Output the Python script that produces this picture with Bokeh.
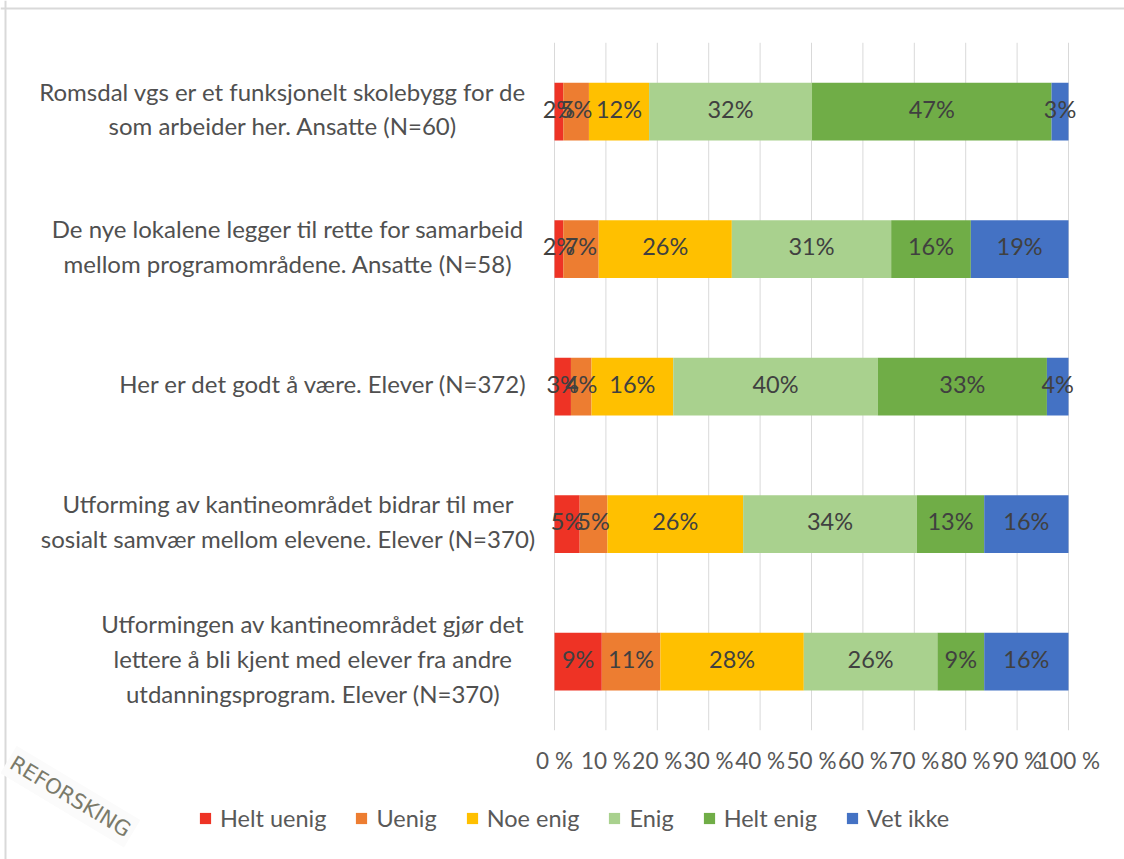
from bokeh.plotting import figure
from bokeh.models import (ColumnDataSource, Range1d, Legend, LegendItem,
                          Label, LabelSet, Span)
from bokeh.core.properties import value
from bokeh.embed import file_html
from bokeh.resources import INLINE

categories = [
    "Romsdal vgs er et funksjonelt skolebygg for de\nsom arbeider her. Ansatte (N=60)",
    "De nye lokalene legger til rette for samarbeid\nmellom programområdene. Ansatte (N=58)",
    "Her er det godt å være. Elever (N=372)",
    "Utforming av kantineområdet bidrar til mer\nsosialt samvær mellom elevene. Elever (N=370)",
    "Utformingen av kantineområdet gjør det\nlettere å bli kjent med elever fra andre\nutdanningsprogram. Elever (N=370)",
]
series = ["Helt uenig", "Uenig", "Noe enig", "Enig", "Helt enig", "Vet ikke"]
colors = ["#EE3325", "#ED7D31", "#FFC000", "#A9D18E", "#70AD47", "#4472C4"]

helt_uenig = [1.7, 1.7, 3.2, 4.9, 9.2]
uenig = [5.0, 6.9, 4.0, 5.4, 11.4]
noe_enig = [11.7, 25.9, 15.9, 26.4, 27.9]
enig = [31.7, 31.0, 39.8, 33.8, 26.0]
helt_enig = [46.6, 15.5, 32.9, 13.1, 9.1]
vet_ikke = [3.3, 19.0, 4.2, 16.4, 16.4]

x_ticks = [0, 10, 20, 30, 40, 50, 60, 70, 80, 90, 100]
x_tick_labels = [f"{t} %" for t in x_ticks]

# layout helpers (pixels): widest line of each category label block
label_block_px = [491, 481, 410, 480, 431]

values = [helt_uenig, uenig, noe_enig, enig, helt_enig, vet_ikke]
keys = ["s%d" % i for i in range(len(series))]
ncat = len(categories)
ypos = list(range(ncat))

data = {"y": ypos}
for k, v in zip(keys, values):
    data[k] = v
source = ColumnDataSource(data)

FONT = "Lato"
W, H = 1124, 859
# frame covers the whole canvas; 0..100 % sits between canvas px 554 and 1068
px_per_unit = 5.14
x0_px = 554
row_px = 137.5
row0_px = 111
p = figure(width=W, height=H, output_backend="svg", toolbar_location=None,
           x_range=Range1d(-x0_px / px_per_unit, (W - x0_px) / px_per_unit),
           y_range=Range1d((H - row0_px) / row_px, -row0_px / row_px),
           x_axis_location=None, y_axis_location=None,
           min_border=0)
p.outline_line_color = None
p.background_fill_color = "white"
p.xgrid.visible = False
p.ygrid.visible = False

# chart-area border lines (top / left)
p.add_layout(Span(location=(8 - row0_px) / row_px, dimension="width",
                  line_color="#D9D9D9", line_width=2))
p.add_layout(Span(location=(5 - x0_px) / px_per_unit, dimension="height",
                  line_color="#D9D9D9", line_width=2))

# vertical gridlines
p.segment(x0=x_ticks, x1=x_ticks, y0=[-0.5] * len(x_ticks),
          y1=[ncat - 0.5] * len(x_ticks), line_color="#D9D9D9", line_width=1)

renderers = p.hbar_stack(keys, y="y", height=0.42, color=colors, line_color=None,
                         source=source)

# data labels
lx, ly, lt = [], [], []
for i in ypos:
    cum = 0.0
    for v in values:
        seg = v[i]
        lx.append(cum + seg / 2.0)
        ly.append(i)
        lt.append(f"{seg:.0f}%")
        cum += seg
lab_src = ColumnDataSource(dict(x=lx, y=ly, t=lt))
p.add_layout(LabelSet(x="x", y="y", text="t", source=lab_src, text_align="center",
                      text_baseline="middle", y_offset=3, text_font=value(FONT),
                      text_font_size="23.5px", text_color="#404040"))

# x tick labels
p.text(x=x_ticks, y=[ncat - 0.5] * len(x_ticks), text=x_tick_labels,
       text_align="center", text_baseline="middle", y_offset=30,
       text_font=value(FONT), text_font_size="22.5px", text_color="#595959")

# category labels (lines centred inside a right-aligned block)
for i, c in enumerate(categories):
    p.add_layout(Label(x=0, y=i, x_offset=-(26 + label_block_px[i] / 2.0),
                       y_offset=3, text=c,
                       text_align="center", text_baseline="middle", text_font=FONT,
                       text_font_size="24px", text_color="#505050",
                       text_line_height=1.2))

# legend
items = [LegendItem(label=s, renderers=[r]) for s, r in zip(series, renderers)]
legend = Legend(items=items, orientation="horizontal", location=(198, 27),
                glyph_width=14, glyph_height=14, label_height=24,
                label_text_font=FONT, label_text_font_size="23.5px",
                label_text_color="#595959", spacing=28, padding=0, margin=0,
                label_standoff=8, border_line_color=None,
                background_fill_alpha=0)
p.add_layout(legend, "center")

# watermark
p.add_layout(Label(x=8, y=100, x_units="screen", y_units="screen",
                   text="REFORSKING", angle=-31, angle_units="deg",
                   text_align="left", text_baseline="middle",
                   text_font="DejaVu Sans", text_font_size="21px",
                   text_color="#7A7A6A", background_fill_color="#FBFBFB",
                   padding=4))

open("out.html", "w").write(file_html(p, INLINE))
